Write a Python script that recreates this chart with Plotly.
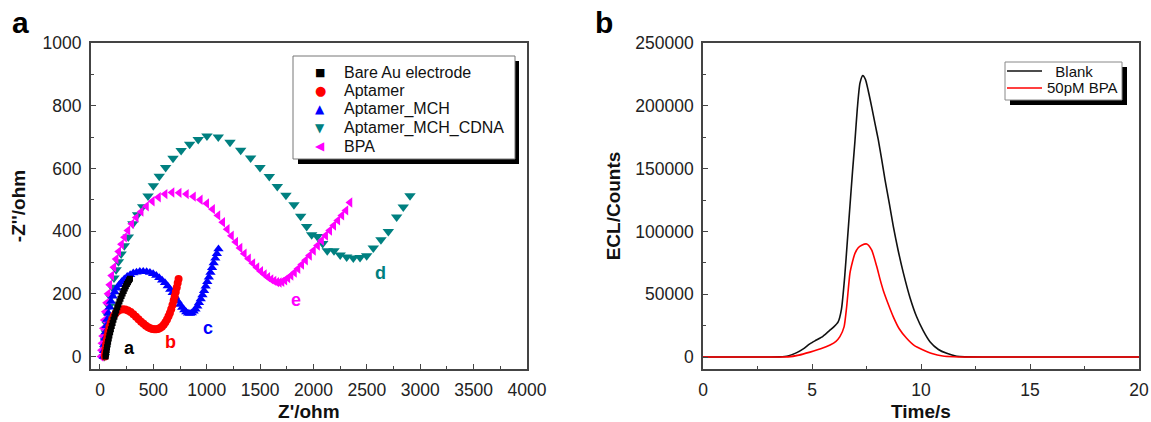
import plotly.graph_objects as go

W, H = 1151, 422
def px(x): return x / W
def py(y): return 1 - y / H

# ---------------- Panel a: Nyquist plots ----------------
a_x = [52, 55, 58, 62, 66, 71, 76, 82, 88, 95, 102, 110, 118, 126, 135, 144, 153, 162, 172, 182,
       192, 202, 212, 222, 232, 242, 252, 262, 272, 281]
a_y = [0, 6, 13, 21, 29, 38, 47, 57, 67, 77, 87, 97, 107, 117, 127, 137, 147, 157, 166, 175,
       184, 193, 201, 209, 217, 224, 231, 237, 243, 248]

b_x = [45, 48, 52, 57, 63, 70, 78, 88, 100, 114, 130, 148, 168, 190, 213, 237, 262, 287, 312, 337,
       361, 385, 408, 430, 451, 471, 490, 508, 526, 544, 562, 580, 597, 613, 628, 642, 655, 667, 679, 690,
       700, 710, 719, 728, 736]
b_y = [0, 12, 25, 38, 52, 66, 80, 94, 107, 119, 130, 139, 145, 149, 151, 150, 147, 142, 135, 127,
       119, 111, 104, 98, 93, 90, 88, 87, 87, 88, 91, 95, 101, 109, 118, 128, 139, 151, 164, 178,
       192, 206, 220, 234, 247]

c_x = [35, 38, 42, 47, 53, 60, 68, 78, 90, 104, 120, 138, 158, 180, 203, 228, 255, 283, 312, 342,
       373, 405, 437, 468, 498, 527, 555, 582, 609, 634, 658, 681, 703, 726, 749, 770, 790, 808, 825, 843,
       860, 878, 895, 912, 928, 944, 960, 975, 990, 1005, 1020, 1035, 1050, 1065, 1080, 1095, 1110]
c_y = [0, 18, 38, 58, 78, 98, 118, 138, 157, 175, 192, 206, 218, 229, 238, 247, 255, 261, 266, 269,
       271, 271, 270, 268, 264, 258, 251, 243, 235, 225, 214, 203, 191, 178, 166, 156, 148, 142, 138, 137,
       139, 144, 151, 160, 171, 183, 196, 210, 224, 238, 253, 268, 283, 298, 313, 328, 343]

d_x = [40, 45, 51, 58, 66, 75, 86, 99, 114, 131, 151, 173, 198, 228, 265, 308, 352, 400, 450, 500,
       555, 615, 684, 760, 840, 920, 1002, 1108, 1218, 1318, 1411, 1499, 1586, 1661, 1742, 1817, 1880,
       1936, 1983, 2036, 2086, 2129, 2192, 2250, 2311, 2373, 2436, 2498, 2560, 2632, 2701, 2779, 2841, 2904]
d_y = [0, 25, 50, 76, 103, 131, 160, 190, 221, 250, 277, 302, 327, 353, 381, 423, 452, 478, 512, 545,
       575, 603, 632, 657, 677, 692, 703, 700, 683, 658, 633, 603, 574, 542, 514, 484, 447,
       415, 388, 383, 360, 337, 337, 324, 317, 314, 316, 321, 346, 372, 399, 445, 477, 513]

e_x = [10, 14, 19, 25, 32, 40, 50, 62, 76, 92, 110, 130, 152, 176, 202, 230, 262, 298, 340, 386,
       436, 490, 548, 610, 675, 742, 810, 876, 940, 1000, 1055, 1105, 1150, 1192, 1232, 1272, 1312, 1352,
       1392, 1432, 1470, 1506, 1540, 1572, 1602, 1630, 1656, 1680, 1705, 1732, 1760, 1790, 1822, 1855,
       1890, 1926, 1963, 2000, 2038, 2076, 2114, 2152, 2190, 2228, 2266, 2304, 2342]
e_y = [0, 20, 42, 65, 90, 116, 143, 171, 200, 229, 258, 285, 311, 335, 358, 380, 402, 423, 443, 462,
       479, 495, 508, 518, 523, 522, 518, 510, 500, 488, 470, 450, 428, 406, 385, 365, 346, 328,
       312, 297, 284, 272, 262, 253, 246, 241, 237, 236, 238, 243, 250, 258, 268, 280,
       293, 307, 322, 338, 354, 370, 386, 402, 418, 434, 450, 466, 491]

series_a = [
    ("Aptamer_MCH_CDNA", d_x, d_y, "triangle-down", "#008080", 10),
    ("BPA", e_x, e_y, "triangle-left", "#ff00ff", 9),
    ("Aptamer_MCH", c_x, c_y, "triangle-up", "#0000ff", 9),
    ("Aptamer", b_x, b_y, "circle", "#ff0000", 8),
    ("Bare Au electrode", a_x, a_y, "square", "#000000", 6),
]
legend_a_order = ["Bare Au electrode", "Aptamer", "Aptamer_MCH", "Aptamer_MCH_CDNA", "BPA"]
legend_a_glyph = {"Bare Au electrode": ("\u25A0", "#000000", 11),
                  "Aptamer": ("\u25CF", "#ff0000", 13),
                  "Aptamer_MCH": ("\u25B2", "#0000ff", 12),
                  "Aptamer_MCH_CDNA": ("\u25BC", "#008080", 12),
                  "BPA": ("\u25C0", "#ff00ff", 12)}

curve_labels = ["a", "b", "c", "d", "e"]
curve_label_x = [281, 662, 1015, 2629, 1836]
curve_label_y = [27, 46, 91, 266, 179]
curve_label_col = ["#000000", "#ff0000", "#0000ff", "#008080", "#ff00ff"]

# ---------------- Panel b: ECL ----------------
t_blank = [0, 1, 2, 3, 3.5, 3.9, 4.3, 4.6, 4.9, 5.2, 5.5, 5.8, 6.0, 6.2, 6.35, 6.5, 6.62, 6.74, 6.86,
           6.97, 7.08, 7.2, 7.33, 7.45, 7.58, 7.74, 7.9, 8.04, 8.2, 8.35, 8.55, 8.73, 8.95, 9.19, 9.5,
           9.8, 10.1, 10.41, 10.8, 11.18, 11.64, 12.0, 13, 14, 15, 16, 17, 18, 19, 20]
y_blank = [0, 0, 0, 0, 100, 800, 3500, 6500, 10500, 13500, 16500, 21000, 24000, 28000, 38000, 64000,
           92000, 120000, 148000, 172000, 198000, 218000, 224000, 221000, 212000, 199000, 185000, 173000,
           157000, 141000, 122000, 104000, 85000, 67000, 47000, 32000, 21000, 12200, 6000, 2900, 600, 100,
           0, 0, 0, 0, 0, 0, 0, 0]
t_bpa = [0, 1, 2, 3, 3.5, 3.9, 4.4, 4.91, 5.4, 5.83, 6.1, 6.28, 6.47, 6.59, 6.74, 6.86, 6.97, 7.12,
         7.28, 7.51, 7.74, 7.97, 8.12, 8.27, 8.5, 8.73, 9.0, 9.34, 9.7, 10.1, 10.5, 11.0, 11.5, 12,
         13, 14, 15, 16, 17, 18, 19, 20]
y_bpa = [0, 0, 0, 0, 0, 100, 1500, 3900, 6500, 9600, 12500, 16200, 24000, 40000, 66600, 76000, 82500,
         87000, 89000, 90000, 85000, 72000, 62000, 53000, 42000, 32000, 22500, 14900, 9000, 5600, 2800,
         800, 200, 0, 0, 0, 0, 0, 0, 0, 0, 0]

fig = go.Figure()
for name, xs, ys, sym, col, size in series_a:
    fig.add_trace(go.Scatter(x=xs, y=ys, mode="markers", name=name, showlegend=False,
                             marker=dict(symbol=sym, color=col, size=size, line=dict(width=0)),
                             xaxis="x", yaxis="y"))

fig.add_trace(go.Scatter(x=t_blank, y=y_blank, mode="lines", name="Blank", showlegend=False,
                         line=dict(color="#111111", width=1.6, shape="spline", smoothing=0.6),
                         xaxis="x2", yaxis="y2"))
fig.add_trace(go.Scatter(x=t_bpa, y=y_bpa, mode="lines", name="50pM BPA", showlegend=False,
                         line=dict(color="#ff0000", width=1.6, shape="spline", smoothing=0.6),
                         xaxis="x2", yaxis="y2"))

FONT = "Arial, Liberation Sans, sans-serif"
frame = "#444444"
tickfont = dict(family=FONT, size=17.5, color="#222222")
titlefont = dict(family=FONT, size=19, color="#111111", weight="bold")

common = dict(showline=True, mirror=True, linecolor=frame, linewidth=1.6, ticks="inside",
              ticklen=5, tickwidth=1.2, tickcolor=frame, showgrid=False, zeroline=False,
              tickfont=tickfont, ticklabelstandoff=4, automargin=False)

fig.update_layout(
    template="none",
    width=W, height=H, margin=dict(l=0, r=0, t=0, b=0, autoexpand=False),
    paper_bgcolor="white", plot_bgcolor="white", showlegend=False,
    xaxis=dict(domain=[px(90.7), px(527)], range=[-87, 4000], tickvals=list(range(0, 4001, 500)),
               minor=dict(dtick=250, ticks="inside", ticklen=3, tickcolor=frame),
               title=dict(text="Z'/ohm", font=titlefont, standoff=8), anchor="y", **common),
    yaxis=dict(domain=[py(369), py(43)], range=[-40, 1000], tickvals=list(range(0, 1001, 200)),
               minor=dict(dtick=100, ticks="inside", ticklen=3, tickcolor=frame),
               title=dict(text="-Z''/ohm", font=titlefont, standoff=12), anchor="x", **common),
    xaxis2=dict(domain=[px(703), px(1139)], range=[0, 20], tickvals=[0, 5, 10, 15, 20],
                minor=dict(dtick=2.5, ticks="inside", ticklen=3, tickcolor=frame),
                title=dict(text="Time/s", font=titlefont, standoff=8), anchor="y2", **common),
    yaxis2=dict(domain=[py(369), py(43)], range=[-9550, 250000],
                tickvals=[0, 50000, 100000, 150000, 200000, 250000], tickformat="d",
                minor=dict(dtick=25000, ticks="inside", ticklen=3, tickcolor=frame),
                title=dict(text="ECL/Counts", font=titlefont, standoff=10), anchor="x2", **common),
)

shapes = []
annots = []
# Legend for panel a (box with drop shadow)
shapes.append(dict(type="rect", xref="paper", yref="paper", x0=px(298), x1=px(519), y0=py(164), y1=py(61),
                   fillcolor="#000000", line=dict(width=0), layer="above"))
shapes.append(dict(type="rect", xref="paper", yref="paper", x0=px(293), x1=px(515), y0=py(159), y1=py(56),
                   fillcolor="white", line=dict(color="#777777", width=1), layer="above"))
rows_a = [72, 91, 109, 128, 146]
for nm, ry in zip(legend_a_order, rows_a):
    g, col, sz = legend_a_glyph[nm]
    annots.append(dict(xref="paper", yref="paper", x=px(320), y=py(ry), text=g, showarrow=False,
                       font=dict(family="DejaVu Sans", size=sz, color=col), xanchor="center", yanchor="middle"))
    annots.append(dict(xref="paper", yref="paper", x=px(342), y=py(ry), text=nm, showarrow=False,
                       font=dict(family=FONT, size=16, color="#111111"), xanchor="left", yanchor="middle"))

# Legend for panel b
shapes.append(dict(type="rect", xref="paper", yref="paper", x0=px(1010), x1=px(1127), y0=py(105), y1=py(67),
                   fillcolor="#000000", line=dict(width=0), layer="above"))
shapes.append(dict(type="rect", xref="paper", yref="paper", x0=px(1005), x1=px(1122), y0=py(100), y1=py(62),
                   fillcolor="white", line=dict(color="#888888", width=1), layer="above"))
legend_b = [("\u00a0\u00a0Blank", "#111111", 71), ("50pM BPA", "#ff0000", 88)]
for nm, col, ry in legend_b:
    shapes.append(dict(type="line", xref="paper", yref="paper", x0=px(1007), x1=px(1042), y0=py(ry), y1=py(ry),
                       line=dict(color=col, width=1.6), layer="above"))
    annots.append(dict(xref="paper", yref="paper", x=px(1045), y=py(ry), text=nm, showarrow=False,
                       font=dict(family=FONT, size=15, color="#111111"), xanchor="left", yanchor="middle"))

# curve labels
for lab, lx, ly, col in zip(curve_labels, curve_label_x, curve_label_y, curve_label_col):
    annots.append(dict(xref="x", yref="y", x=lx, y=ly, text=lab, showarrow=False,
                       font=dict(family=FONT, size=18, color=col, weight="bold"),
                       xanchor="center", yanchor="middle"))

# panel letters
annots.append(dict(xref="paper", yref="paper", x=px(20), y=py(23), text="a", showarrow=False,
                   xanchor="center", yanchor="middle",
                   font=dict(family=FONT, size=30, color="#000000", weight="bold")))
annots.append(dict(xref="paper", yref="paper", x=px(604), y=py(23), text="b", showarrow=False,
                   xanchor="center", yanchor="middle",
                   font=dict(family=FONT, size=30, color="#000000", weight="bold")))

fig.update_layout(shapes=shapes, annotations=annots)
fig.write_html("out.html", config={"displayModeBar": False},
               post_script="document.body.style.margin='0px';document.body.style.padding='0px';")
